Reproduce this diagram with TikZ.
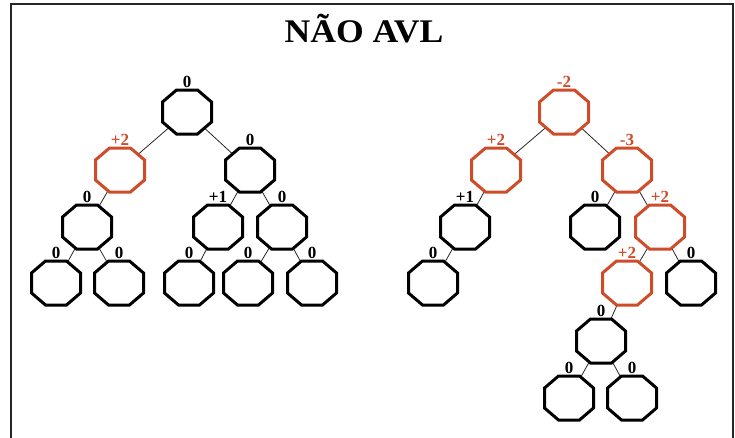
\documentclass[tikz,border=0pt]{standalone}
\usepackage{fontspec}
\setmainfont{Liberation Serif}
\begin{document}
\begin{tikzpicture}[x=1pt,y=-1pt,
  treenode/.style={rectangle,minimum width=49pt,minimum height=44pt,inner sep=0pt,outer sep=0pt},
  octline/.style={line width=3pt,line join=miter,draw=black,fill=white},
  octred/.style={octline,draw=avlred},
  edge/.style={line width=0.8pt,draw=black!85},
  bal/.style={font=\fontsize{17}{17}\selectfont\bfseries,inner sep=0pt,anchor=base},
  balred/.style={bal,text=avlred},
]
\definecolor{avlred}{RGB}{206,76,42}
\useasboundingbox (0,0) rectangle (735,437);
% frame (left, top and right sides)
\draw[line width=1.8pt,black!85] (11,438) -- (11,4) -- (733,4) -- (733,438);
\node[font=\fontsize{33}{33}\selectfont\bfseries,anchor=base,xscale=1.08] (title) at (364,42) {NÃO AVL};

% left tree
\node[treenode] (L0) at (187,112) {};
\node[treenode] (L1) at (120,170) {};
\node[treenode] (L2) at (250,170) {};
\node[treenode] (L3) at (87,227) {};
\node[treenode] (L4) at (218,227) {};
\node[treenode] (L5) at (282,227) {};
\node[treenode] (L6) at (56,283) {};
\node[treenode] (L7) at (119,283) {};
\node[treenode] (L8) at (189,283) {};
\node[treenode] (L9) at (248,283) {};
\node[treenode] (L10) at (312,283) {};
% right tree
\node[treenode] (R0) at (564,112) {};
\node[treenode] (R1) at (496,170) {};
\node[treenode] (R2) at (627,170) {};
\node[treenode] (R3) at (465,227) {};
\node[treenode] (R4) at (595,227) {};
\node[treenode] (R5) at (660,227) {};
\node[treenode] (R6) at (433,283) {};
\node[treenode] (R7) at (627,283) {};
\node[treenode] (R8) at (691,283) {};
\node[treenode] (R9) at (601,341) {};
\node[treenode] (R10) at (569,398) {};
\node[treenode] (R11) at (632,398) {};

% connectors, drawn first so the octagons cover their ends
\foreach \a/\b in {L0/L1,L0/L2,L1/L3,L3/L6,L3/L7,L2/L4,L2/L5,L4/L8,L5/L9,L5/L10,
                   R0/R1,R0/R2,R1/R3,R3/R6,R2/R4,R2/R5,R5/R7,R5/R8,R7/R9,R9/R10,R9/R11}
  \draw[edge] (\a.center) -- (\b.center);

% octagons
\def\cx{14pt}\def\cy{12pt}
\foreach \n/\s in {L0/octline,L1/octred,L2/octline,L3/octline,L4/octline,L5/octline,
                   L6/octline,L7/octline,L8/octline,L9/octline,L10/octline,
                   R0/octred,R1/octred,R2/octred,R3/octline,R4/octline,R5/octred,
                   R6/octline,R7/octred,R8/octline,R9/octline,R10/octline,R11/octline}
  \draw[\s] ([xshift=\cx]\n.north west) -- ([xshift=-\cx]\n.north east)
    -- ([yshift=-\cy]\n.north east) -- ([yshift=\cy]\n.south east)
    -- ([xshift=-\cx]\n.south east) -- ([xshift=\cx]\n.south west)
    -- ([yshift=\cy]\n.south west) -- ([yshift=-\cy]\n.north west) -- cycle;

% balance factors
\foreach \n/\s/\t in {L0/bal/0,L1/balred/+2,L2/bal/0,L3/bal/0,L4/bal/+1,L5/bal/0,
                      L6/bal/0,L7/bal/0,L8/bal/0,L9/bal/0,L10/bal/0,
                      R0/balred/-2,R1/balred/+2,R2/balred/-3,R3/bal/+1,R4/bal/0,R5/balred/+2,
                      R6/bal/0,R7/balred/+2,R8/bal/0,R9/bal/0,R10/bal/0,R11/bal/0}
  \node[\s] (b\n) at ([yshift=3pt]\n.north) {\t};
\end{tikzpicture}
\end{document}
